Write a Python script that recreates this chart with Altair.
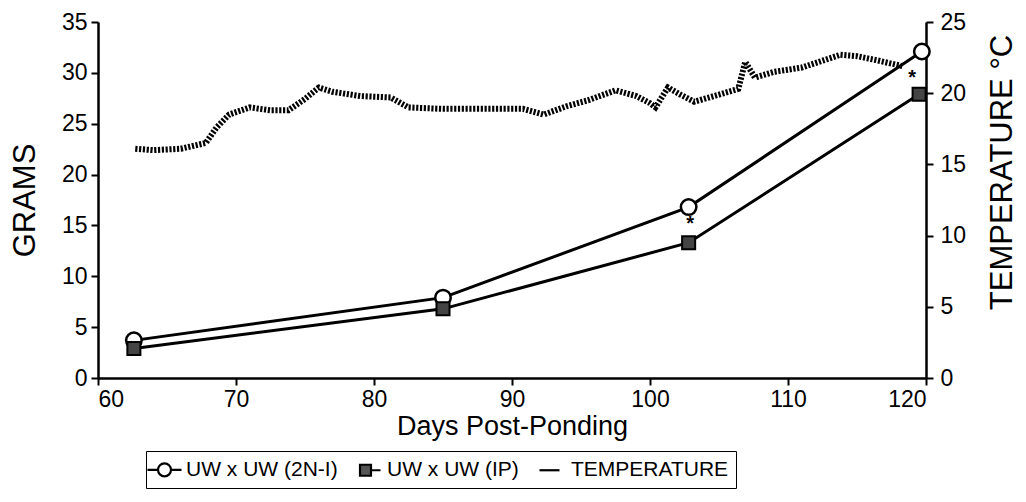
import altair as alt
import pandas as pd

# Fish weight (grams) at each sampling day for the two crosses
sample_days_2n = [62.6, 85.0, 102.8, 119.7]
grams_2n = [3.7, 7.9, 16.8, 32.1]
sample_days_ip = [62.6, 85.0, 102.8, 119.5]
grams_ip = [2.9, 6.8, 13.3, 27.9]

# Daily water temperature (deg C)
temp_days = [62.7, 64.0, 66.0, 67.8, 68.6, 69.5, 71.0, 72.5, 73.8, 75.0,
             76.0, 77.0, 79.0, 81.2, 82.5, 85.0, 88.0, 90.8, 92.3, 94.0,
             95.5, 97.5, 99.0, 100.0, 100.4, 101.3, 102.2, 103.2, 105.0, 106.4,
             106.9, 107.6, 109.0, 111.0, 113.8, 115.0, 116.5, 118.3]
temp_c = [16.1, 16.0, 16.1, 16.5, 17.6, 18.5, 19.0, 18.8, 18.8, 19.6,
          20.4, 20.1, 19.8, 19.7, 19.0, 18.9, 18.9, 18.9, 18.5, 19.1,
          19.5, 20.2, 19.8, 19.3, 19.0, 20.4, 19.9, 19.4, 19.9, 20.3,
          22.2, 21.1, 21.5, 21.8, 22.7, 22.6, 22.3, 21.9]

# Significance markers
star_days = [102.9, 119.0]
star_grams = [15.6, 30.0]

series_names = ["UW x UW (2N-I)", "UW x UW (IP)", "TEMPERATURE"]
x_ticks = [60, 70, 80, 90, 100, 110, 120]
gram_ticks = [0, 5, 10, 15, 20, 25, 30, 35]
temp_ticks = [0, 5, 10, 15, 20, 25]

FONT = "Liberation Sans"

grams_df = pd.concat([
    pd.DataFrame({"series": series_names[0], "day": sample_days_2n, "grams": grams_2n}),
    pd.DataFrame({"series": series_names[1], "day": sample_days_ip, "grams": grams_ip}),
])
temp_df = pd.DataFrame({"day": temp_days, "temp": temp_c})
star_df = pd.DataFrame({"day": star_days, "grams": star_grams})
# Rows that only feed the legend; they sit left of the x domain and are clipped
legend_df = pd.DataFrame({"series": series_names, "day": [40.0] * 3, "grams": [5.0] * 3})

x_axis = alt.Axis(values=x_ticks, title="Days Post-Ponding", titleFontSize=27,
                  titleFontWeight="normal", titlePadding=2, labelPadding=3)


def x_enc():
    return alt.X("day:Q", scale=alt.Scale(domain=[60, 120], nice=False, zero=False), axis=x_axis)


gram_axis = alt.Axis(orient="left", values=gram_ticks, title="GRAMS", titleFontSize=31,
                     titleFontWeight="normal", titlePadding=20, labelPadding=4)


def y_enc():
    return alt.Y("grams:Q", scale=alt.Scale(domain=[0, 35], nice=False), axis=gram_axis)


circle_stub = "M-1.7,0H-0.65M0.65,0H1.7M0.65,0A0.65,0.65,0,1,1,-0.65,0A0.65,0.65,0,1,1,0.65,0Z"
square_stub = "M0.55,0H1.5M-0.55,-0.55H0.55V0.55H-0.55Z"

legend = alt.Legend(orient="none", legendX=48, legendY=429, direction="horizontal",
                    title=None, strokeColor="black", padding=7, labelFont=FONT,
                    labelFontSize=21, labelColor="black", symbolSize=400,
                    symbolStrokeWidth=2.2, labelOffset=10, columnPadding=16)

temp_line = alt.Chart(temp_df).mark_line(
    color="black", strokeWidth=6, strokeDash=[2.2, 1.6]
).encode(
    x=x_enc(),
    y=alt.Y("temp:Q", scale=alt.Scale(domain=[0, 25], nice=False),
            axis=alt.Axis(orient="right", values=temp_ticks, title="TEMPERATURE °C",
                          titleFontSize=31, titleFontWeight="normal", titleAngle=270,
                          titleAlign="center", titleBaseline="middle",
                          titleX=76, titleY=150, labelPadding=7)),
)

lines = alt.Chart(grams_df).mark_line(color="black", strokeWidth=3).encode(
    x=x_enc(), y=y_enc(), detail="series:N"
)

circles = alt.Chart(grams_df[grams_df.series == series_names[0]]).mark_point(
    shape="circle", filled=True, fill="white", stroke="black", strokeWidth=2.5,
    size=240, opacity=1
).encode(x=x_enc(), y=y_enc())

squares = alt.Chart(grams_df[grams_df.series == series_names[1]]).mark_point(
    shape="square", filled=True, fill="#444444", stroke="black", strokeWidth=2,
    size=170, opacity=1
).encode(x=x_enc(), y=y_enc())

stars = alt.Chart(star_df).mark_text(
    text="*", font=FONT, fontSize=20, fontWeight="bold", color="black", dy=5
).encode(x=x_enc(), y=y_enc())

legend_layer = alt.Chart(legend_df).mark_point(
    clip=True, filled=True, stroke="black", strokeWidth=2.2, opacity=1
).encode(
    x=x_enc(), y=y_enc(),
    shape=alt.Shape("series:N", scale=alt.Scale(domain=series_names,
                    range=[circle_stub, square_stub, "stroke"]), legend=legend),
    fill=alt.Fill("series:N", scale=alt.Scale(domain=series_names,
                  range=["white", "#555555", "white"]), legend=legend),
)

grams_layer = alt.layer(lines, circles, squares, stars, legend_layer)

chart = alt.layer(temp_line, grams_layer).resolve_scale(y="independent").properties(
    width=828, height=356,
    padding={"left": 98, "top": 22, "right": 100, "bottom": 124},
    autosize=alt.AutoSizeParams(type="none"),
    background="white",
).configure_view(stroke="transparent").configure_axis(
    domainColor="black", domainWidth=2.5, tickColor="black", tickWidth=2,
    tickSize=7, labelFont=FONT, labelFontSize=23, labelColor="black",
    titleFont=FONT, titleColor="black", grid=False,
)

chart.save("out.html", embed_options={"renderer": "svg", "actions": False})
